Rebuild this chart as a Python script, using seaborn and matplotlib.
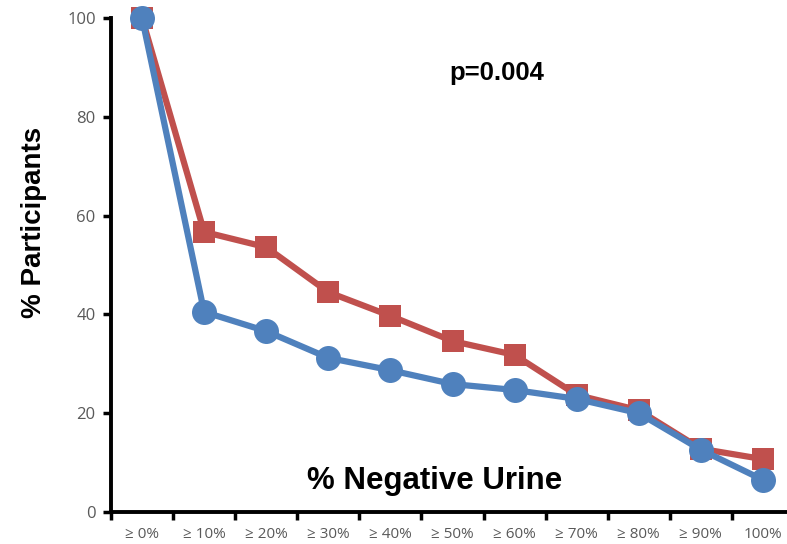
import pandas as pd
import numpy as np
import matplotlib
matplotlib.use('Agg')
import matplotlib.pyplot as plt
import seaborn as sns

categories = ['≥ 0%', '≥ 10%', '≥ 20%', '≥ 30%', '≥ 40%', '≥ 50%',
              '≥ 60%', '≥ 70%', '≥ 80%', '≥ 90%', '100%']
red_values = [100, 56.7, 53.6, 44.5, 39.7, 34.6, 31.8, 23.7, 20.6, 12.8, 10.7]
blue_values = [100, 40.5, 36.6, 31.2, 28.7, 25.9, 24.7, 22.9, 20.0, 12.6, 6.5]
y_ticks = [0, 20, 40, 60, 80, 100]

red = '#C0504D'
blue = '#4F81BD'

sns.set_theme(style='white')
plt.rcParams['font.family'] = ['Liberation Sans', 'DejaVu Sans']
plt.rcParams['text.color'] = 'black'
plt.rcParams['axes.labelcolor'] = 'black'

fig = plt.figure(figsize=(7.87, 5.44), dpi=100)
ax = fig.add_axes([111 / 787, 1 - 512 / 544, (794 - 111) / 787, (512 - 18) / 544])

df = pd.DataFrame({'cat': categories, 'red': red_values, 'blue': blue_values})

sns.lineplot(data=df, x='cat', y='red', ax=ax, color=red, lw=4.5,
             marker='s', markersize=16, markeredgewidth=0, sort=False, clip_on=False)
sns.lineplot(data=df, x='cat', y='blue', ax=ax, color=blue, lw=4.5,
             marker='o', markersize=18, markeredgewidth=0, sort=False, clip_on=False)

ax.set_xlim(-0.5, len(categories) - 0.5)
ax.set_ylim(0, 100)
ax.set_yticks(y_ticks)
ax.set_xticks(range(len(categories)))
ax.set_xticklabels(categories, fontsize=11, color='#595959', family=['Open Sans', 'DejaVu Sans'])
ax.set_yticklabels([str(v) for v in y_ticks], fontsize=12, color='#595959',
                   family=['Open Sans', 'DejaVu Sans'])
ax.set_xticks(np.arange(-0.5, len(categories), 1), minor=True)
ax.tick_params(axis='x', which='major', length=0, pad=11)
ax.tick_params(axis='x', which='minor', length=6, width=2.5, color='black', direction='out', bottom=True)
ax.tick_params(axis='y', length=6, width=2.5, color='black', direction='out', left=True, pad=5)

for s in ['top', 'right']:
    ax.spines[s].set_visible(False)
for s in ['left', 'bottom']:
    ax.spines[s].set_linewidth(2.8)
    ax.spines[s].set_color('black')

ax.set_xlabel('')
ax.set_ylabel('% Participants', fontsize=20, fontweight='bold')
ax.yaxis.set_label_coords(-0.093, 0.587)

ax.text(4.72, 6.3, '% Negative Urine', fontsize=22.5, fontweight='bold', ha='center', va='center')
ax.text(5.72, 88.9, 'p=0.004', fontsize=18.5, fontweight='bold', ha='center', va='center')

fig.savefig('out.png', dpi=100)
